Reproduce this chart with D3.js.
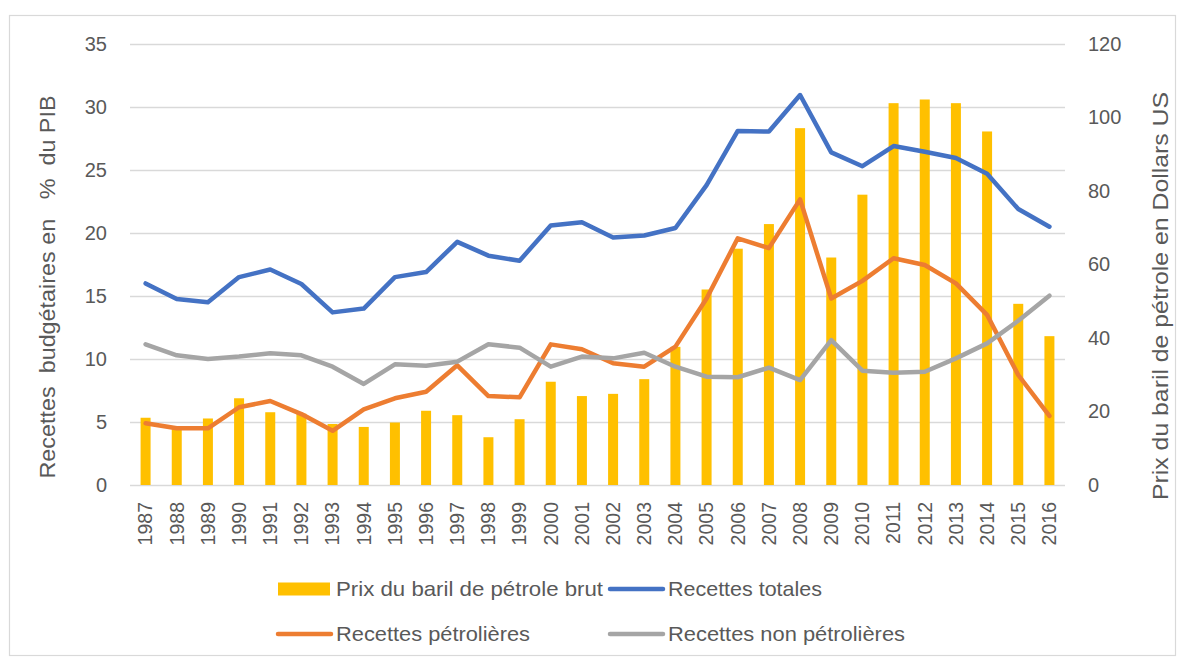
<!DOCTYPE html>
<html>
<head>
<meta charset="utf-8">
<script src="https://cdn.jsdelivr.net/npm/d3@7"></script>
<style>
  body { margin: 0; background: #fff; }
  svg { display: block; }
  text { fill: #595959; font-family: "Liberation Sans", Arial, sans-serif; }
</style>
</head>
<body>
<div class="chart"></div>
<script>
	// data
	var years = d3.range(1987, 2017).map(String);
	var prixBaril = [18.3, 15.5, 18.1, 23.6, 19.8, 19.4, 16.6, 15.8, 17.0, 20.2,
		19.0, 13.0, 17.9, 28.1, 24.2, 24.8, 28.8, 37.6, 53.2, 64.3,
		71.0, 97.1, 61.9, 79.0, 103.9, 104.9, 103.9, 96.2, 49.3, 40.5];
	var recettesTotales = [16.0, 14.76, 14.5, 16.5, 17.1, 15.95, 13.7, 14.0, 16.5, 16.9,
		19.3, 18.2, 17.8, 20.6, 20.85, 19.65, 19.8, 20.4, 23.8, 28.1,
		28.05, 30.95, 26.4, 25.3, 26.9, 26.45, 25.95, 24.7, 21.9, 20.5];
	var recettesPetrolieres = [4.9, 4.5, 4.5, 6.17, 6.67, 5.63, 4.3, 6.0, 6.88, 7.4,
		9.5, 7.06, 6.96, 11.16, 10.77, 9.66, 9.39, 10.98, 14.8, 19.58,
		18.8, 22.67, 14.8, 16.2, 18.0, 17.46, 16.0, 13.5, 8.73, 5.48];
	var recettesNonPetrolieres = [11.17, 10.29, 10.0, 10.19, 10.45, 10.29, 9.39, 8.02, 9.58, 9.47,
		9.79, 11.17, 10.9, 9.39, 10.19, 10.05, 10.5, 9.39, 8.6, 8.55,
		9.31, 8.33, 11.5, 9.07, 8.91, 8.99, 10.05, 11.24, 13.04, 15.02];
	var leftTicks = [0, 5, 10, 15, 20, 25, 30, 35];
	var rightTicks = [0, 20, 40, 60, 80, 100, 120];

	var width = 1185, height = 661;
	var plot = { left: 130, right: 1065, top: 44, bottom: 485 };

	var svg = d3.select('.chart').append('svg').attr('width', width).attr('height', height);

	svg.append('rect')
		.attr('x', 9.5).attr('y', 15.5)
		.attr('width', 1166).attr('height', 640)
		.attr('fill', 'none').attr('stroke', '#d9d9d9').attr('stroke-width', 1.2);

	var x = d3.scaleBand().domain(years).range([plot.left, plot.right]);
	var yLeft = d3.scaleLinear().domain([0, 35]).range([plot.bottom, plot.top]);
	var yRight = d3.scaleLinear().domain([0, 120]).range([plot.bottom, plot.top]);

	// gridlines
	var grid = svg.append('g')
		.attr('transform', 'translate(' + plot.left + ',0)')
		.call(d3.axisLeft(yLeft).tickValues(leftTicks).tickSize(-(plot.right - plot.left)).tickFormat(''));
	grid.select('.domain').remove();
	grid.selectAll('line').attr('stroke', '#d9d9d9').attr('stroke-width', 1.5);

	function styleTicks(g, size) {
		g.select('.domain').remove();
		g.selectAll('text').attr('fill', '#595959').style('font-size', size)
			.style('font-family', '"Liberation Sans", Arial, sans-serif');
	}

	// left axis labels
	var axL = svg.append('g')
		.attr('transform', 'translate(110,0)')
		.call(d3.axisLeft(yLeft).tickValues(leftTicks).tickSize(0));
	styleTicks(axL, '20px');

	// right axis labels
	var axR = svg.append('g')
		.attr('transform', 'translate(1085,0)')
		.call(d3.axisRight(yRight).tickValues(rightTicks).tickSize(0));
	styleTicks(axR, '20px');

	// bars (right axis)
	var barW = 10;
	svg.append('g').selectAll('rect')
		.data(prixBaril)
		.enter().append('rect')
		.attr('x', function(d, i) { return x(years[i]) + x.bandwidth() / 2 - barW / 2; })
		.attr('y', function(d) { return yRight(d); })
		.attr('width', barW)
		.attr('height', function(d) { return plot.bottom - yRight(d); })
		.attr('fill', '#FFC000');

	// lines (left axis)
	var line = d3.line()
		.x(function(d, i) { return x(years[i]) + x.bandwidth() / 2; })
		.y(function(d) { return yLeft(d); });

	var series = [
		{ values: recettesTotales, color: '#4472C4' },
		{ values: recettesPetrolieres, color: '#ED7D31' },
		{ values: recettesNonPetrolieres, color: '#A5A5A5' }
	];
	series.forEach(function(s) {
		svg.append('path')
			.datum(s.values)
			.attr('d', line)
			.attr('fill', 'none')
			.attr('stroke', s.color)
			.attr('stroke-width', 4.5)
			.attr('stroke-linejoin', 'round')
			.attr('stroke-linecap', 'round');
	});

	// year labels
	var axB = svg.append('g')
		.attr('transform', 'translate(0,' + plot.bottom + ')')
		.call(d3.axisBottom(x).tickSize(0));
	styleTicks(axB, '19.5px');
	axB.selectAll('text')
		.attr('text-anchor', 'end')
		.attr('transform', 'rotate(-90)')
		.attr('x', -17)
		.attr('y', 0)
		.attr('dy', '0.35em');

	// axis titles
	svg.append('text')
		.attr('transform', 'translate(47,287) rotate(-90)')
		.attr('text-anchor', 'middle')
		.attr('dy', '0.35em')
		.attr('textLength', 383)
		.attr('lengthAdjust', 'spacingAndGlyphs')
		.style('font-size', '22px')
		.attr('xml:space', 'preserve')
		.text('Recettes  budgétaires en   %  du PIB');

	svg.append('text')
		.attr('transform', 'translate(1160,296) rotate(-90)')
		.attr('text-anchor', 'middle')
		.attr('dy', '0.35em')
		.attr('textLength', 408)
		.attr('lengthAdjust', 'spacingAndGlyphs')
		.style('font-size', '22px')
		.text('Prix du baril de pétrole en Dollars US');

	// legend
	var legend = svg.append('g').attr('class', 'legend');
	var items = [
		{ label: 'Prix du baril de pétrole brut', color: '#FFC000', type: 'bar', x: 278, y: 589, w: 267 },
		{ label: 'Recettes totales', color: '#4472C4', type: 'line', x: 610, y: 589, w: 154 },
		{ label: 'Recettes pétrolières', color: '#ED7D31', type: 'line', x: 278, y: 634, w: 194 },
		{ label: 'Recettes non pétrolières', color: '#A5A5A5', type: 'line', x: 610, y: 634, w: 237 }
	];
	items.forEach(function(it) {
		if (it.type === 'bar') {
			legend.append('rect').attr('x', it.x).attr('y', it.y - 6.5)
				.attr('width', 52).attr('height', 13).attr('fill', it.color);
		} else {
			legend.append('line').attr('x1', it.x).attr('x2', it.x + 53)
				.attr('y1', it.y).attr('y2', it.y)
				.attr('stroke', it.color).attr('stroke-width', 4.5).attr('stroke-linecap', 'round');
		}
		legend.append('text').attr('x', it.x + 58).attr('y', it.y).attr('dy', '0.35em')
			.attr('textLength', it.w)
			.attr('lengthAdjust', 'spacingAndGlyphs')
			.style('font-size', '21px').text(it.label);
	});
</script>
</body>
</html>
